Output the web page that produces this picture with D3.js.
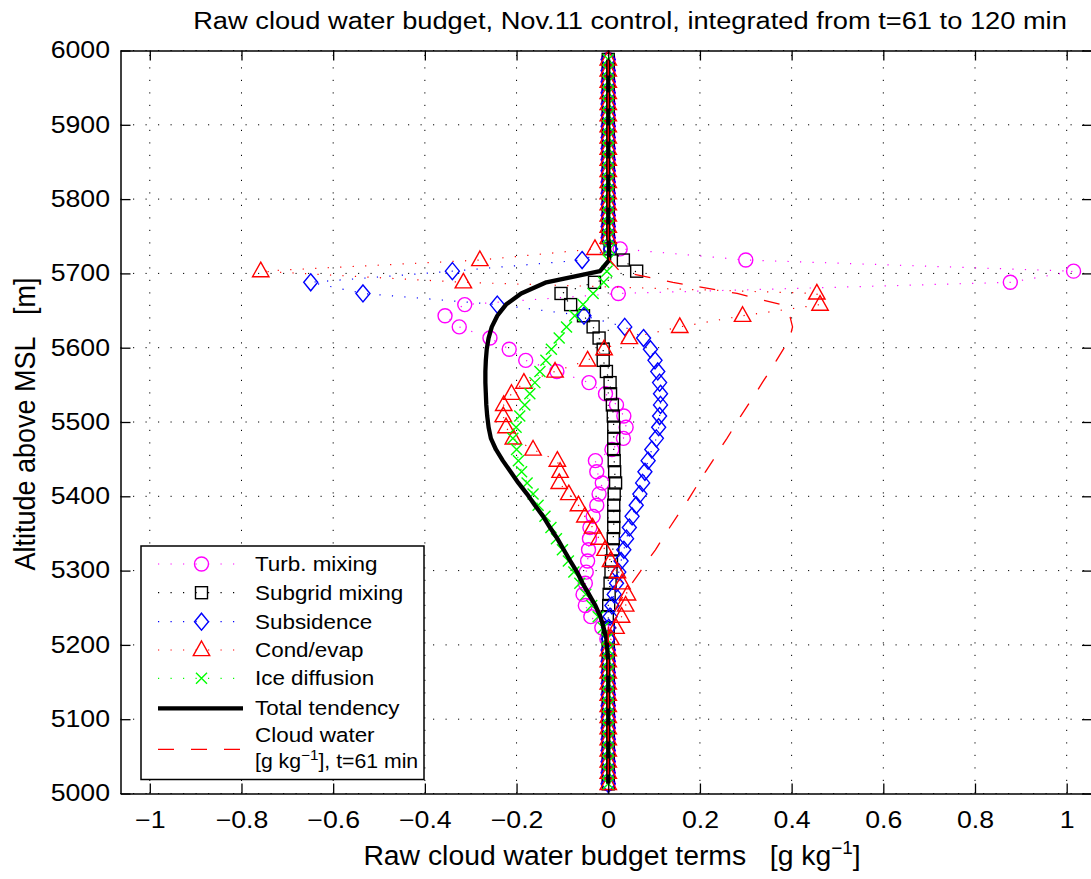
<!DOCTYPE html>
<html><head><meta charset="utf-8">
<script src="https://cdn.jsdelivr.net/npm/d3@7"></script>
<style>
body{margin:0;background:#fff;}
svg{display:block;font-family:"Liberation Sans",Arial,Helvetica,sans-serif;}
</style></head>
<body><div id="chart"></div>
<script>
// Altitude levels [m]
const altitude = [5988,5973,5958,5943,5928,5913,5898,5883,5868,5853,5838,5823,5808,5793,5778,5763,5748,
  5733,5718,5703,5688,5673,5658,5643,5628,5613,5598,5583,5568,5553,5538,5523,5508,5493,5478,5463,5448,5433,5418,5403,5388,5373,5358,5343,5328,5313,5298,5283,5268,5253,5238,5223,5208,5193,
  5178,5163,5148,5133,5118,5103,5088,5073,5058,5043,5028,5013];

const quietTop = [0,0,0,0,0,0,0,0,0,0,0,0,0,0,0,0,0];
const quietBottom = [0,0,0,0,0,0,0,0,0,0,0,0];

const turbMixing = quietTop.concat([0.026,0.30,1.015,0.877,0.022,-0.313,-0.356,-0.325,-0.258,-0.216,-0.18,-0.112,-0.042,-0.006,0.018,0.034,0.039,0.033,0.008,-0.028,-0.025,-0.013,-0.02,-0.025,-0.033,-0.04,-0.041,-0.043,-0.045,-0.048,-0.05,-0.055,-0.05,-0.038,-0.014,-0.003,0]).concat(quietBottom);
const subgridMixing = quietTop.concat([0.004,0.033,0.062,-0.03,-0.103,-0.082,-0.054,-0.033,-0.02,-0.011,-0.011,-0.004,0.004,0.005,0.009,0.011,0.012,0.012,0.012,0.013,0.014,0.016,0.013,0.012,0.012,0.012,0.011,0.01,0.007,0.006,0.004,0.002,0.001,-0.002,0,0,0]).concat(quietBottom);
const subsidence = quietTop.concat([0.005,-0.057,-0.34,-0.649,-0.535,-0.242,-0.053,0.036,0.077,0.092,0.102,0.108,0.112,0.114,0.114,0.112,0.11,0.105,0.095,0.087,0.08,0.075,0.069,0.061,0.052,0.046,0.04,0.034,0.028,0.023,0.018,0.013,0.008,0.004,0.001,0,0]).concat(quietBottom);
const condEvap = quietTop.concat([-0.029,-0.28,-0.758,-0.316,0.455,0.462,0.293,0.156,0.046,-0.009,-0.045,-0.116,-0.184,-0.211,-0.228,-0.229,-0.223,-0.207,-0.164,-0.111,-0.105,-0.107,-0.086,-0.065,-0.051,-0.034,-0.02,-0.007,0.005,0.02,0.03,0.042,0.038,0.029,0.017,0.006,0]).concat(quietBottom);
const iceDiffusion = quietTop.concat([0.002,0.0,-0.003,-0.01,-0.033,-0.055,-0.073,-0.091,-0.107,-0.124,-0.136,-0.149,-0.16,-0.171,-0.182,-0.193,-0.201,-0.208,-0.2,-0.196,-0.189,-0.177,-0.164,-0.153,-0.138,-0.125,-0.113,-0.1,-0.087,-0.075,-0.062,-0.049,-0.036,-0.022,-0.011,-0.003,0]).concat(quietBottom);
const totalTendency = quietTop.concat([0.002,0.002,-0.018,-0.135,-0.19,-0.223,-0.242,-0.254,-0.261,-0.265,-0.267,-0.268,-0.268,-0.267,-0.266,-0.264,-0.261,-0.256,-0.245,-0.23,-0.213,-0.196,-0.177,-0.16,-0.142,-0.127,-0.111,-0.097,-0.083,-0.068,-0.056,-0.042,-0.028,-0.017,-0.01,-0.004,-0.002]).concat(quietBottom);
const cloudWater = quietTop.concat([0,0.003,0.025,0.141,0.281,0.377,0.396,0.402,0.396,0.382,0.367,0.352,0.336,0.321,0.305,0.289,0.274,0.259,0.243,0.228,0.212,0.197,0.182,0.167,0.15,0.134,0.118,0.103,0.085,0.069,0.052,0.035,0.02,0.008,0,0,0]).concat(quietBottom);

const xTicks = [-1,-0.8,-0.6,-0.4,-0.2,0,0.2,0.4,0.6,0.8,1];
const yTicks = [5000,5100,5200,5300,5400,5500,5600,5700,5800,5900,6000];

const titleText = "Raw cloud water budget, Nov.11 control, integrated from t=61 to 120 min";
const legendLabels = ["Turb. mixing","Subgrid mixing","Subsidence","Cond/evap","Ice diffusion","Total tendency","Cloud water"];

const W = 1091, H = 879;
const L = 120.5, R = 1092, T = 50.5, B = 793.5;
const SX = 1.16; // horizontal glyph stretch of the reference text
const x = d3.scaleLinear().domain([-1.0639, 1.0552]).range([L, R]);
const y = d3.scaleLinear().domain([5000, 6000]).range([B, T]);

const svg = d3.select("#chart").append("svg").attr("width", W).attr("height", H);
svg.append("rect").attr("width", W).attr("height", H).attr("fill", "#fff");
svg.append("defs").append("clipPath").attr("id", "clip")
  .append("rect").attr("x", L).attr("y", T).attr("width", R - L).attr("height", B - T);

function stretch(sel, s) {
  sel.each(function () {
    const t = d3.select(this);
    const tx = +t.attr("x") || 0, ty = +t.attr("y") || 0;
    t.attr("x", 0).attr("y", 0).attr("transform", `translate(${tx},${ty}) scale(${s},1)`);
  });
}

const DOT = "1.2,11.3";
// grid
const grid = svg.append("g");
grid.selectAll(".gx").data(xTicks).join("line")
  .attr("x1", d => x(d)).attr("x2", d => x(d)).attr("y1", B).attr("y2", T)
  .attr("stroke", "#000").attr("stroke-width", 1).attr("stroke-dasharray", DOT);
grid.selectAll(".gy").data(yTicks).join("line")
  .attr("x1", L).attr("x2", R).attr("y1", d => y(d)).attr("y2", d => y(d))
  .attr("stroke", "#000").attr("stroke-width", 1).attr("stroke-dasharray", DOT);

// marker generators
const markers = {
  circle: (g, c) => g.append("circle").attr("r", 7).attr("fill", "none").attr("stroke", c).attr("stroke-width", 1.4),
  square: (g, c) => g.append("rect").attr("x", -6).attr("y", -6).attr("width", 12).attr("height", 12).attr("fill", "none").attr("stroke", c).attr("stroke-width", 1.4),
  diamond: (g, c) => g.append("path").attr("d", "M0,-8.5L7,0L0,8.5L-7,0Z").attr("fill", "none").attr("stroke", c).attr("stroke-width", 1.4),
  triangle: (g, c) => g.append("path").attr("d", "M0,-9L8.2,5.6L-8.2,5.6Z").attr("fill", "none").attr("stroke", c).attr("stroke-width", 1.4),
  cross: (g, c) => g.append("path").attr("d", "M-5.5,-5.5L5.5,5.5M-5.5,5.5L5.5,-5.5").attr("fill", "none").attr("stroke", c).attr("stroke-width", 1.4)
};

const series = [
  {vals: turbMixing, color: "#ff00ff", marker: "circle"},
  {vals: subgridMixing, color: "#000000", marker: "square"},
  {vals: subsidence, color: "#0000ff", marker: "diamond"},
  {vals: condEvap, color: "#ff0000", marker: "triangle"},
  {vals: iceDiffusion, color: "#00ff00", marker: "cross"}
];

const plot = svg.append("g").attr("clip-path", "url(#clip)");
const line = d3.line().x(d => x(d[0])).y(d => y(d[1]));

series.forEach(s => {
  const pts = s.vals.map((v, i) => [v, altitude[i]]);
  plot.append("path").attr("d", line(pts)).attr("fill", "none")
    .attr("stroke", s.color).attr("stroke-width", 1.2).attr("stroke-dasharray", DOT);
  pts.forEach(p => {
    const g = plot.append("g").attr("transform", `translate(${x(p[0])},${y(p[1])})`);
    markers[s.marker](g, s.color);
  });
});

// total tendency
plot.append("path").attr("d", line(totalTendency.map((v, i) => [v, altitude[i]])))
  .attr("fill", "none").attr("stroke", "#000").attr("stroke-width", 4.3).attr("stroke-linejoin", "round");
// cloud water
plot.append("path").attr("d", line(cloudWater.map((v, i) => [v, altitude[i]])))
  .attr("fill", "none").attr("stroke", "#ff0000").attr("stroke-width", 1.3).attr("stroke-dasharray", "16,17");

// axes
const fontTick = 23;
const ax = svg.append("g").attr("transform", `translate(0,${B})`)
  .call(d3.axisBottom(x).tickValues(xTicks).tickSizeInner(-10).tickSizeOuter(0).tickPadding(18.5).tickFormat(d3.format("")));
const axTop = svg.append("g").attr("transform", `translate(0,${T})`)
  .call(d3.axisTop(x).tickValues(xTicks).tickSizeInner(-10).tickSizeOuter(0).tickFormat(""));
const ay = svg.append("g").attr("transform", `translate(${L},0)`)
  .call(d3.axisLeft(y).tickValues(yTicks).tickSizeInner(-10).tickSizeOuter(0).tickPadding(10.5).tickFormat(d3.format("d")));
const ayR = svg.append("g").attr("transform", `translate(${R},0)`)
  .call(d3.axisRight(y).tickValues(yTicks).tickSizeInner(-10).tickSizeOuter(0).tickFormat(""));
[ax, axTop, ay, ayR].forEach(a => {
  a.select(".domain").attr("stroke", "#000").attr("stroke-width", 1.5);
  a.selectAll(".tick line").attr("stroke", "#000").attr("stroke-width", 1.3);
  a.selectAll("text").attr("font-size", fontTick).attr("font-family", "Liberation Sans, Arial, sans-serif").attr("fill", "#000");
});
stretch(ax.selectAll(".tick text"), SX);
stretch(ay.selectAll(".tick text"), SX);

// title and axis labels
const title = svg.append("text").attr("x", 630).attr("y", 28.5).attr("text-anchor", "middle")
  .attr("font-size", 23.5).text(titleText);
stretch(title, SX);

const xl = svg.append("text").attr("x", 612).attr("y", 865).attr("text-anchor", "middle")
  .attr("font-size", 27).style("white-space", "pre");
xl.append("tspan").text("Raw cloud water budget terms   [g kg");
xl.append("tspan").attr("dy", -11).attr("font-size", 18).text("−1");
xl.append("tspan").attr("dy", 11).text("]");
stretch(xl, 1.05);

svg.append("text").attr("transform", "translate(35,424) rotate(-90) scale(1,1.12)").attr("text-anchor", "middle")
  .attr("font-size", 27).style("white-space", "pre").text("Altitude above MSL   [m]");

// legend
const lg = svg.append("g");
lg.append("rect").attr("x", 141).attr("y", 546).attr("width", 283).attr("height", 233.5)
  .attr("fill", "#fff").attr("stroke", "#000").attr("stroke-width", 1.5);
const rowY = [564, 592.7, 621.7, 650, 678.3, 708.3];
const sx1 = 158, sx2 = 243, mx = 201.5, tx = 255;
const lgFont = 19.5;
series.forEach((s, i) => {
  lg.append("line").attr("x1", sx1).attr("x2", sx2).attr("y1", rowY[i]).attr("y2", rowY[i])
    .attr("stroke", s.color).attr("stroke-width", 1.2).attr("stroke-dasharray", DOT);
  const g = lg.append("g").attr("transform", `translate(${mx},${rowY[i]})`);
  markers[s.marker](g, s.color);
  stretch(lg.append("text").attr("x", tx).attr("y", rowY[i] + 7).attr("font-size", lgFont).text(legendLabels[i]), 1.15);
});
lg.append("line").attr("x1", sx1).attr("x2", sx2).attr("y1", rowY[5]).attr("y2", rowY[5])
  .attr("stroke", "#000").attr("stroke-width", 4.3);
stretch(lg.append("text").attr("x", tx).attr("y", rowY[5] + 7).attr("font-size", lgFont).text(legendLabels[5]), 1.15);
lg.append("line").attr("x1", sx1).attr("x2", sx2).attr("y1", 749.3).attr("y2", 749.3)
  .attr("stroke", "#ff0000").attr("stroke-width", 1.3).attr("stroke-dasharray", "16,17");
stretch(lg.append("text").attr("x", tx).attr("y", 742).attr("font-size", lgFont).text(legendLabels[6]), 1.15);
const l2 = lg.append("text").attr("x", tx).attr("y", 768).attr("font-size", lgFont);
l2.append("tspan").text("[g kg");
l2.append("tspan").attr("dy", -8).attr("font-size", 14).text("−1");
l2.append("tspan").attr("dy", 8).text("], t=61 min");
stretch(l2, 1.09);
</script></body></html>
